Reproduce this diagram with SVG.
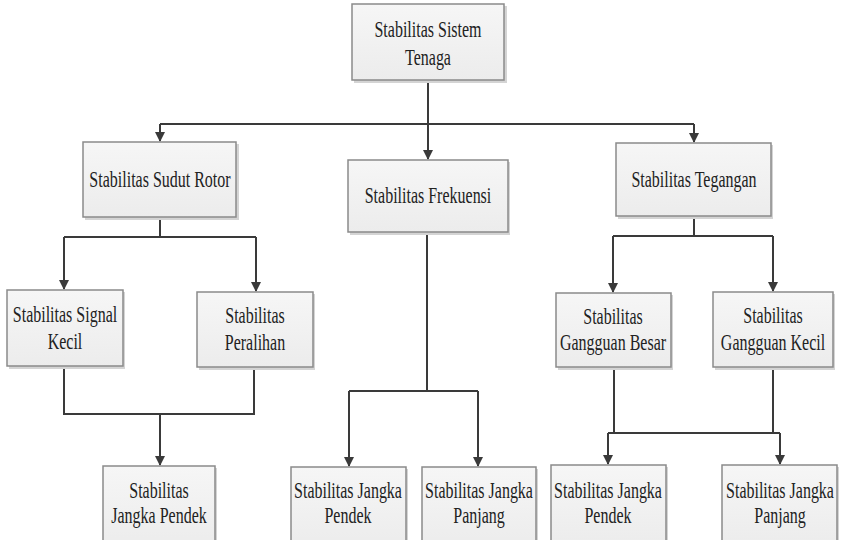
<svg xmlns="http://www.w3.org/2000/svg" width="844" height="540" viewBox="0 0 844 540">
<style>
.box{fill:url(#g);stroke:#8a8a8a;stroke-width:1.5}
.sh{fill:#d4d4d4}
.t{font-family:"Liberation Serif","Times New Roman",serif;font-size:16px;fill:#222;text-anchor:middle}
.c{fill:none;stroke:#3a3a3a;stroke-width:2}
.a{fill:none;stroke:#3a3a3a;stroke-width:2;marker-end:url(#ah)}
</style>
<defs>
<linearGradient id="g" x1="0" y1="0" x2="0" y2="1">
<stop offset="0" stop-color="#f6f6f6"/>
<stop offset="1" stop-color="#ececec"/>
</linearGradient>
<marker id="ah" markerWidth="10" markerHeight="12" refX="9" refY="5" orient="auto" markerUnits="userSpaceOnUse">
<path d="M0,0 L10,5 L0,10 Z" fill="#3a3a3a"/>
</marker>
</defs>
<rect width="844" height="540" fill="#fff"/>

<g id="connectors">
<path class="c" d="M428,81 V124 M160,124 H694"/>
<path class="a" d="M160,124 V141"/>
<path class="a" d="M428,124 V159"/>
<path class="a" d="M694,124 V142"/>
<path class="c" d="M160,218 V237 M64,237 H256"/>
<path class="a" d="M64,237 V289"/>
<path class="a" d="M256,237 V291"/>
<path class="c" d="M64,367 V414 H254 V368"/>
<path class="a" d="M160,414 V465"/>
<path class="c" d="M427,233 V391 M349,391 H478"/>
<path class="a" d="M349,391 V466"/>
<path class="a" d="M478,391 V466"/>
<path class="c" d="M694,217 V236 M613,236 H773"/>
<path class="a" d="M613,236 V292"/>
<path class="a" d="M773,236 V291"/>
<path class="c" d="M614,368 V433 M773,368 V433 M608,433 H780"/>
<path class="a" d="M608,433 V464"/>
<path class="a" d="M780,433 V464"/>
</g>

<g id="n-sistem">
<rect class="sh" x="354" y="6" width="153" height="77"/>
<rect class="box" x="352" y="4" width="152" height="76"/>
<text class="t" transform="translate(428,37) scale(1,1.4)">Stabilitas Sistem</text>
<text class="t" transform="translate(428,65) scale(1,1.4)">Tenaga</text>
</g>

<g id="n-rotor">
<rect class="sh" x="85" y="144" width="154" height="76"/>
<rect class="box" x="83" y="142" width="153" height="75"/>
<text class="t" transform="translate(160,187) scale(1,1.4)">Stabilitas Sudut Rotor</text>
</g>

<g id="n-frekuensi">
<rect class="sh" x="350" y="162" width="160" height="73"/>
<rect class="box" x="348" y="160" width="160" height="72"/>
<text class="t" transform="translate(428,203) scale(1,1.4)">Stabilitas Frekuensi</text>
</g>

<g id="n-tegangan">
<rect class="sh" x="618" y="145" width="155" height="74"/>
<rect class="box" x="616" y="143" width="155" height="73"/>
<text class="t" transform="translate(694,187) scale(1,1.4)">Stabilitas Tegangan</text>
</g>

<g id="n-signal">
<rect class="sh" x="9" y="292" width="116" height="77"/>
<rect class="box" x="7" y="290" width="116" height="76"/>
<text class="t" transform="translate(65,322) scale(1,1.4)">Stabilitas Signal</text>
<text class="t" transform="translate(65,349) scale(1,1.4)">Kecil</text>
</g>

<g id="n-peralihan">
<rect class="sh" x="199" y="294" width="116" height="76"/>
<rect class="box" x="197" y="292" width="116" height="75"/>
<text class="t" transform="translate(255,323) scale(1,1.4)">Stabilitas</text>
<text class="t" transform="translate(255,350) scale(1,1.4)">Peralihan</text>
</g>

<g id="n-besar">
<rect class="sh" x="558" y="295" width="115" height="75"/>
<rect class="box" x="556" y="293" width="115" height="74"/>
<text class="t" transform="translate(613,324) scale(1,1.4)">Stabilitas</text>
<text class="t" transform="translate(613,350) scale(1,1.4)">Gangguan Besar</text>
</g>

<g id="n-kecil">
<rect class="sh" x="715" y="294" width="120" height="76"/>
<rect class="box" x="713" y="292" width="120" height="75"/>
<text class="t" transform="translate(773,323) scale(1,1.4)">Stabilitas</text>
<text class="t" transform="translate(773,350) scale(1,1.4)">Gangguan Kecil</text>
</g>

<g id="n-rotor-pendek">
<rect class="sh" x="105" y="468" width="112" height="80"/>
<rect class="box" x="103" y="466" width="112" height="80"/>
<text class="t" transform="translate(159,498) scale(1,1.4)">Stabilitas</text>
<text class="t" transform="translate(159,523) scale(1,1.4)">Jangka Pendek</text>
</g>

<g id="n-frek-pendek">
<rect class="sh" x="293" y="469" width="115" height="80"/>
<rect class="box" x="291" y="467" width="115" height="80"/>
<text class="t" transform="translate(348,498) scale(1,1.4)">Stabilitas Jangka</text>
<text class="t" transform="translate(348,523) scale(1,1.4)">Pendek</text>
</g>

<g id="n-frek-panjang">
<rect class="sh" x="424" y="469" width="114" height="80"/>
<rect class="box" x="422" y="467" width="114" height="80"/>
<text class="t" transform="translate(479,498) scale(1,1.4)">Stabilitas Jangka</text>
<text class="t" transform="translate(479,523) scale(1,1.4)">Panjang</text>
</g>

<g id="n-teg-pendek">
<rect class="sh" x="553" y="467" width="115" height="80"/>
<rect class="box" x="551" y="465" width="115" height="80"/>
<text class="t" transform="translate(608,498) scale(1,1.4)">Stabilitas Jangka</text>
<text class="t" transform="translate(608,523) scale(1,1.4)">Pendek</text>
</g>

<g id="n-teg-panjang">
<rect class="sh" x="724" y="467" width="115" height="80"/>
<rect class="box" x="722" y="465" width="115" height="80"/>
<text class="t" transform="translate(780,498) scale(1,1.4)">Stabilitas Jangka</text>
<text class="t" transform="translate(780,523) scale(1,1.4)">Panjang</text>
</g>
</svg>
